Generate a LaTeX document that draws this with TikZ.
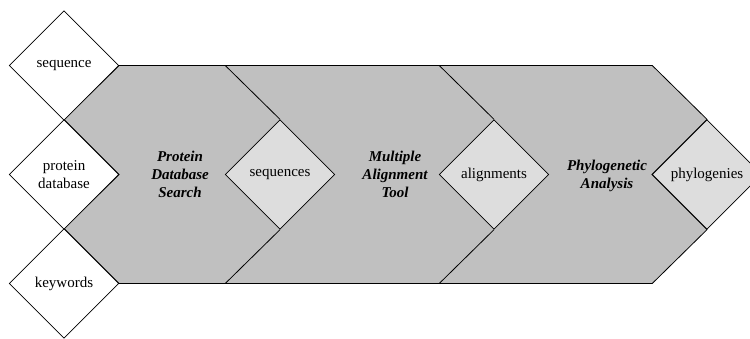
\documentclass[tikz,border=0pt]{standalone}
\usepackage{fontspec}
\setmainfont{Liberation Serif}
\usetikzlibrary{shapes.geometric,backgrounds}
\definecolor{bandgray}{RGB}{192,192,192}
\definecolor{diagray}{RGB}{221,221,221}
\tikzset{
  dia/.style={shape=diamond, draw=black, line width=0.8pt, inner sep=0pt,
    minimum width=109.5pt, minimum height=109.5pt, align=center,
    font=\fontsize{15}{18}\selectfont},
  india/.style={dia, fill=white},
  outdia/.style={dia, fill=diagray},
  proc/.style={align=center, font=\fontsize{15}{18}\selectfont\bfseries\itshape},
  sep/.style={draw=black, line width=0.8pt},
  band/.style={fill=bandgray, draw=black, line width=0.8pt, line join=miter}
}
\begin{document}
\begin{tikzpicture}[x=1pt,y=-1pt]
\useasboundingbox (0,0) rectangle (750,339);
% input diamonds
\node[india] (seq) at (64,65.5) {sequence};
\node[india] (pdb) at (64,174.5) {protein\\database};
\node[india] (kw) at (64,283.5) {keywords};
% output diamonds
\node[outdia] (seqs) at (280,174.5) {sequences};
\node[outdia] (ali) at (494,174.5) {alignments};
\node[outdia] (phy) at (707,174.5) {phylogenies};
% band corners
\coordinate (c1t) at (225.25,65.5);
\coordinate (c1b) at (225.25,283.5);
\coordinate (c2t) at (439.25,65.5);
\coordinate (c2b) at (439.25,283.5);
\coordinate (c3t) at (652.25,65.5);
\coordinate (c3b) at (652.25,283.5);
\begin{pgfonlayer}{background}
\path[band] (seq.east) -- (c3t) -- (phy.north) -- (phy.west) -- (phy.south)
  -- (c3b) -- (kw.east) -- (kw.north) -- (pdb.east) -- (pdb.north) -- cycle;
\end{pgfonlayer}
\draw[sep] (c1t) -- (seqs.north);
\draw[sep] (seqs.south) -- (c1b);
\draw[sep] (c2t) -- (ali.north);
\draw[sep] (ali.south) -- (c2b);
% process labels
\node[proc] (p1) at (180,174.5) {Protein\\Database\\Search};
\node[proc] (p2) at (395,174.5) {Multiple\\Alignment\\Tool};
\node[proc] (p3) at (607,176) {Phylogenetic\\Analysis};
\end{tikzpicture}
\end{document}
